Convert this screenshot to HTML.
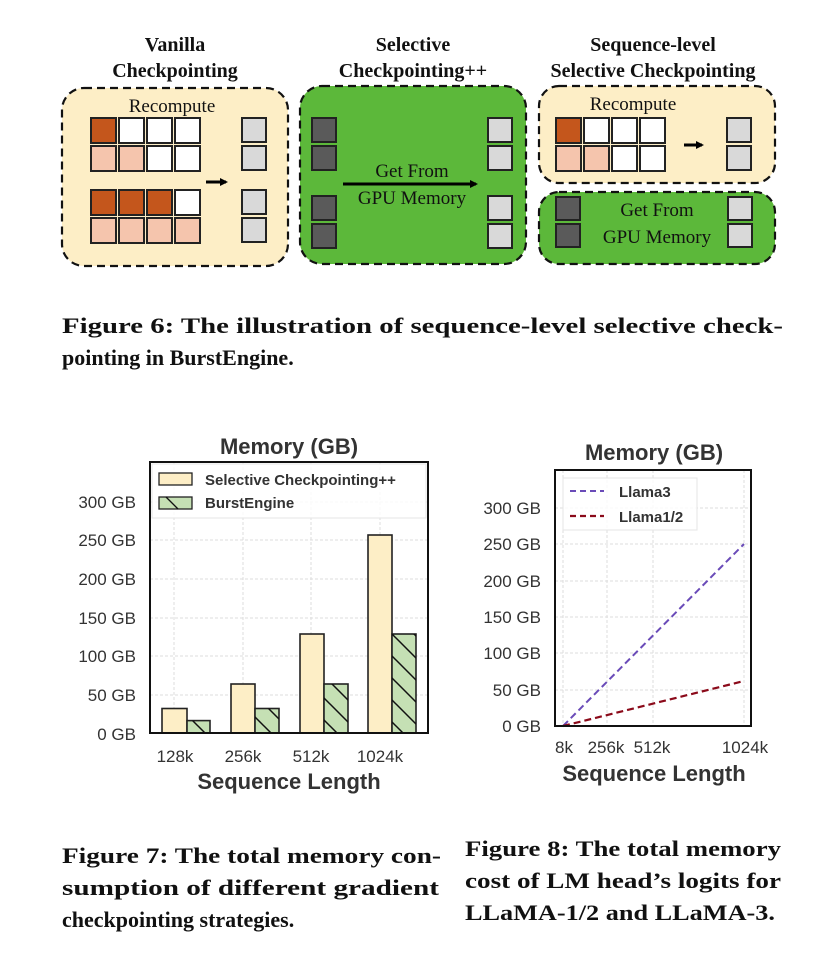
<!DOCTYPE html>
<html><head><meta charset="utf-8"><style>
html,body{margin:0;padding:0;background:#fff;}
svg{display:block;}
.t{font-family:"Liberation Serif",serif;font-weight:bold;fill:#111;}
.s{font-family:"Liberation Sans",sans-serif;fill:#333;}
</style></head><body>
<svg width="838" height="964" viewBox="0 0 838 964" xmlns="http://www.w3.org/2000/svg">
<defs>
<pattern id="h" width="22" height="22" patternUnits="userSpaceOnUse">
<path d="M0,0 L22,22 M-11,11 L11,33 M11,-11 L33,11" stroke="#111" stroke-width="1.5"/>
</pattern>
<marker id="ar" markerWidth="8" markerHeight="8" refX="6" refY="4" orient="auto" markerUnits="userSpaceOnUse"><path d="M0,0 L8,4 L0,8 z" fill="#000"/></marker>
</defs>
<!-- Figure 6 titles -->
<g class="t" font-size="20" text-anchor="middle">
<text x="175" y="51">Vanilla</text><text x="175" y="77">Checkpointing</text>
<text x="413" y="51">Selective</text><text x="413" y="77">Checkpointing++</text>
<text x="653" y="51">Sequence-level</text><text x="653" y="77">Selective Checkpointing</text>
</g>
<!-- boxes -->
<rect x="62" y="88" width="226" height="178" rx="22" fill="#fdeec6" stroke="#111" stroke-width="2.2" stroke-dasharray="8,5"/>
<rect x="300" y="86" width="226" height="178" rx="22" fill="#5cb83a" stroke="#111" stroke-width="2.2" stroke-dasharray="8,5"/>
<rect x="539" y="86" width="236" height="97" rx="20" fill="#fdeec6" stroke="#111" stroke-width="2.2" stroke-dasharray="8,5"/>
<rect x="539" y="192" width="236" height="72" rx="20" fill="#5cb83a" stroke="#111" stroke-width="2.2" stroke-dasharray="8,5"/>
<g class="t" font-size="19" font-weight="normal" text-anchor="middle" style="font-weight:normal">
<text x="172" y="112">Recompute</text>
<text x="633" y="110">Recompute</text>
<text x="412" y="177">Get From</text>
<text x="412" y="204">GPU Memory</text>
<text x="657" y="216">Get From</text>
<text x="657" y="243">GPU Memory</text>
</g>
<g stroke="#222" stroke-width="2">
<!-- vanilla cells -->
<rect x="91" y="118" width="25" height="25" fill="#c4561c"/><rect x="119" y="118" width="25" height="25" fill="#fff"/><rect x="147" y="118" width="25" height="25" fill="#fff"/><rect x="175" y="118" width="25" height="25" fill="#fff"/>
<rect x="91" y="146" width="25" height="25" fill="#f5c5ad"/><rect x="119" y="146" width="25" height="25" fill="#f5c5ad"/><rect x="147" y="146" width="25" height="25" fill="#fff"/><rect x="175" y="146" width="25" height="25" fill="#fff"/>
<rect x="91" y="190" width="25" height="25" fill="#c4561c"/><rect x="119" y="190" width="25" height="25" fill="#c4561c"/><rect x="147" y="190" width="25" height="25" fill="#c4561c"/><rect x="175" y="190" width="25" height="25" fill="#fff"/>
<rect x="91" y="218" width="25" height="25" fill="#f5c5ad"/><rect x="119" y="218" width="25" height="25" fill="#f5c5ad"/><rect x="147" y="218" width="25" height="25" fill="#f5c5ad"/><rect x="175" y="218" width="25" height="25" fill="#f5c5ad"/>
<rect x="242" y="118" width="24" height="24" fill="#d9d9d9"/><rect x="242" y="146" width="24" height="24" fill="#d9d9d9"/><rect x="242" y="190" width="24" height="24" fill="#d9d9d9"/><rect x="242" y="218" width="24" height="24" fill="#d9d9d9"/>
<!-- green middle -->
<rect x="312" y="118" width="24" height="24" fill="#5a5a5a"/><rect x="312" y="146" width="24" height="24" fill="#5a5a5a"/><rect x="312" y="196" width="24" height="24" fill="#5a5a5a"/><rect x="312" y="224" width="24" height="24" fill="#5a5a5a"/>
<rect x="488" y="118" width="24" height="24" fill="#d9d9d9"/><rect x="488" y="146" width="24" height="24" fill="#d9d9d9"/><rect x="488" y="196" width="24" height="24" fill="#d9d9d9"/><rect x="488" y="224" width="24" height="24" fill="#d9d9d9"/>
<!-- right top -->
<rect x="556" y="118" width="25" height="25" fill="#c4561c"/><rect x="584" y="118" width="25" height="25" fill="#fff"/><rect x="612" y="118" width="25" height="25" fill="#fff"/><rect x="640" y="118" width="25" height="25" fill="#fff"/>
<rect x="556" y="146" width="25" height="25" fill="#f5c5ad"/><rect x="584" y="146" width="25" height="25" fill="#f5c5ad"/><rect x="612" y="146" width="25" height="25" fill="#fff"/><rect x="640" y="146" width="25" height="25" fill="#fff"/>
<rect x="727" y="118" width="24" height="24" fill="#d9d9d9"/><rect x="727" y="146" width="24" height="24" fill="#d9d9d9"/>
<!-- right bottom -->
<rect x="556" y="197" width="24" height="23" fill="#5a5a5a"/><rect x="556" y="224" width="24" height="23" fill="#5a5a5a"/>
<rect x="728" y="197" width="24" height="23" fill="#d9d9d9"/><rect x="728" y="224" width="24" height="23" fill="#d9d9d9"/>
</g>
<g stroke="#000" stroke-width="3" marker-end="url(#ar)">
<line x1="206" y1="182" x2="226" y2="182"/>
<line x1="343" y1="184" x2="476" y2="184"/>
<line x1="684" y1="145" x2="702" y2="145"/>
</g>
<!-- captions -->
<g class="t" font-size="22">
<text x="62" y="333" textLength="721" lengthAdjust="spacingAndGlyphs">Figure 6: The illustration of sequence-level selective check-</text>
<text x="62" y="365">pointing in BurstEngine.</text>
<text x="62" y="863" textLength="379" lengthAdjust="spacingAndGlyphs">Figure 7: The total memory con-</text>
<text x="62" y="895" textLength="377" lengthAdjust="spacingAndGlyphs">sumption of different gradient</text>
<text x="62" y="927">checkpointing strategies.</text>
<text x="465" y="856" textLength="316" lengthAdjust="spacingAndGlyphs">Figure 8: The total memory</text>
<text x="465" y="888" textLength="316" lengthAdjust="spacingAndGlyphs">cost of LM head’s logits for</text>
<text x="465" y="920" textLength="310" lengthAdjust="spacingAndGlyphs">LLaMA-1/2 and LLaMA-3.</text>
</g>
<!-- Chart 1 -->
<g stroke="#ddd" stroke-width="1" stroke-dasharray="3,2">
<line x1="150" y1="695" x2="428" y2="695"/><line x1="150" y1="656" x2="428" y2="656"/><line x1="150" y1="618" x2="428" y2="618"/><line x1="150" y1="579" x2="428" y2="579"/><line x1="150" y1="540" x2="428" y2="540"/><line x1="150" y1="502" x2="428" y2="502"/>
<line x1="174" y1="462" x2="174" y2="733"/><line x1="243" y1="462" x2="243" y2="733"/><line x1="311" y1="462" x2="311" y2="733"/><line x1="380" y1="462" x2="380" y2="733"/>
</g>
<g stroke="#222" stroke-width="1.6">
<rect x="162" y="708.5" width="25" height="24.5" fill="#fdeec6"/><rect x="187" y="720.6" width="23" height="12.4" fill="#c5e0b4"/>
<rect x="231" y="684" width="24" height="49" fill="#fdeec6"/><rect x="255" y="708.5" width="24" height="24.5" fill="#c5e0b4"/>
<rect x="300" y="634" width="24" height="99" fill="#fdeec6"/><rect x="324" y="684" width="24" height="49" fill="#c5e0b4"/>
<rect x="368" y="535" width="24" height="198" fill="#fdeec6"/><rect x="392" y="634" width="24" height="99" fill="#c5e0b4"/>
</g>
<g fill="url(#h)">
<rect x="187" y="720.6" width="23" height="12.4"/><rect x="255" y="708.5" width="24" height="24.5"/><rect x="324" y="684" width="24" height="49"/><rect x="392" y="634" width="24" height="99"/>
</g>
<rect x="152" y="464" width="274" height="54" fill="#fff" fill-opacity="0.85" stroke="#e5e5e5"/>
<rect x="159" y="473" width="33" height="12" fill="#fdeec6" stroke="#222" stroke-width="1.3"/>
<rect x="159" y="497" width="33" height="12" fill="#c5e0b4" stroke="#222" stroke-width="1.3"/>
<line x1="166" y1="497" x2="178" y2="509" stroke="#111" stroke-width="1.3"/>
<g class="s" font-size="15" font-weight="bold"><text x="205" y="485">Selective Checkpointing++</text><text x="205" y="508">BurstEngine</text></g>
<rect x="150" y="462" width="278" height="271" fill="none" stroke="#111" stroke-width="2"/>
<text class="s" x="289" y="454" font-size="22" font-weight="bold" text-anchor="middle">Memory (GB)</text>
<g class="s" font-size="17" text-anchor="end">
<text x="136" y="740">0 GB</text><text x="136" y="701">50 GB</text><text x="136" y="662">100 GB</text><text x="136" y="624">150 GB</text><text x="136" y="585">200 GB</text><text x="136" y="546">250 GB</text><text x="136" y="508">300 GB</text>
</g>
<g class="s" font-size="17" text-anchor="middle"><text x="175" y="762">128k</text><text x="243" y="762">256k</text><text x="311" y="762">512k</text><text x="380" y="762">1024k</text></g>
<text class="s" x="289" y="789" font-size="22" font-weight="bold" text-anchor="middle">Sequence Length</text>
<!-- Chart 2 -->
<g stroke="#ddd" stroke-width="1" stroke-dasharray="3,2">
<line x1="555" y1="690" x2="751" y2="690"/><line x1="555" y1="653" x2="751" y2="653"/><line x1="555" y1="617" x2="751" y2="617"/><line x1="555" y1="581" x2="751" y2="581"/><line x1="555" y1="544" x2="751" y2="544"/><line x1="555" y1="508" x2="751" y2="508"/>
<line x1="563" y1="470" x2="563" y2="726"/><line x1="607" y1="470" x2="607" y2="726"/><line x1="653" y1="470" x2="653" y2="726"/><line x1="744" y1="470" x2="744" y2="726"/>
</g>
<line x1="563" y1="726" x2="744" y2="544" stroke="#6a4bb8" stroke-width="2" stroke-dasharray="7,4"/>
<line x1="563" y1="726" x2="744" y2="681" stroke="#8b0a1a" stroke-width="2.2" stroke-dasharray="7,4"/>
<rect x="563" y="478" width="134" height="52" fill="#fff" fill-opacity="0.85" stroke="#e5e5e5"/>
<line x1="570" y1="491" x2="604" y2="491" stroke="#6a4bb8" stroke-width="2" stroke-dasharray="6,4"/>
<line x1="570" y1="516" x2="604" y2="516" stroke="#8b0a1a" stroke-width="2.2" stroke-dasharray="6,4"/>
<g class="s" font-size="15" font-weight="bold"><text x="619" y="497">Llama3</text><text x="619" y="522">Llama1/2</text></g>
<rect x="555" y="470" width="196" height="256" fill="none" stroke="#111" stroke-width="2"/>
<text class="s" x="654" y="460" font-size="22" font-weight="bold" text-anchor="middle">Memory (GB)</text>
<g class="s" font-size="17" text-anchor="end">
<text x="541" y="732">0 GB</text><text x="541" y="696">50 GB</text><text x="541" y="659">100 GB</text><text x="541" y="623">150 GB</text><text x="541" y="587">200 GB</text><text x="541" y="550">250 GB</text><text x="541" y="514">300 GB</text>
</g>
<g class="s" font-size="17" text-anchor="middle"><text x="564" y="753">8k</text><text x="606" y="753">256k</text><text x="652" y="753">512k</text><text x="745" y="753">1024k</text></g>
<text class="s" x="654" y="781" font-size="22" font-weight="bold" text-anchor="middle">Sequence Length</text>
</svg>
</body></html>
